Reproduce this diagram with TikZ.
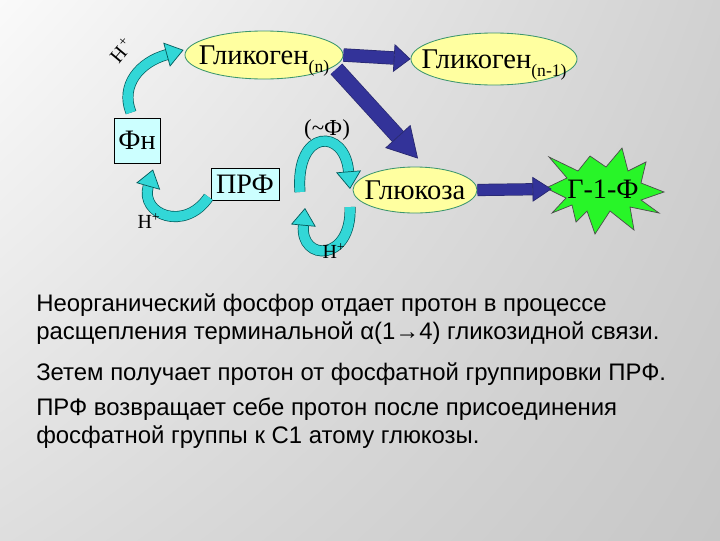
\documentclass[tikz,border=0pt]{standalone}
\usepackage{fontspec}
\setmainfont{Liberation Sans}
\newfontfamily\lbl{Liberation Serif}
\usetikzlibrary{arrows.meta,calc,shapes.geometric,shadings}

\definecolor{sugarfill}{RGB}{255,255,160}
\definecolor{sugaredge}{RGB}{60,150,110}
\definecolor{phosfill}{RGB}{204,255,255}
\definecolor{bluefill}{RGB}{51,51,153}
\definecolor{blueedge}{RGB}{40,40,110}
\definecolor{cyanfill}{RGB}{50,215,215}
\definecolor{cyanedge}{RGB}{0,90,90}
\definecolor{stargreen}{RGB}{40,245,40}

\newcommand{\lowidx}[1]{{\fontsize{12.5}{12}\selectfont\raisebox{-6pt}[0pt][0pt]{#1}}}
\newcommand{\fitin}[1]{\makebox[0pt]{#1}}

\begin{document}
\begin{tikzpicture}[x=0.025cm,y=-0.025cm,
  sugar/.style={ellipse, draw=sugaredge, fill=sugarfill, line width=0.6pt,
    inner sep=0pt, font=\lbl\fontsize{20.3}{22}\selectfont},
  phos/.style={rectangle, draw=black, fill=phosfill, line width=0.6pt,
    inner sep=0pt, font=\lbl\fontsize{20}{22}\selectfont},
  proton/.style={inner sep=0pt, font=\lbl\fontsize{14.2}{16}\selectfont},
  body/.style={anchor=base west, inner sep=0pt, font=\fontsize{17}{20}\selectfont},
  bigarrow/.style n args={3}{draw=blueedge, double=bluefill, line width=0.5pt,
    double distance=#1,
    -{Triangle[width=#2, length=#3, fill=bluefill, line width=0.5pt]}},
  cyclearrow/.style={draw=cyanedge, double=cyanfill, line width=0.5pt,
    double distance=0.24cm,
    -{Triangle[width=0.62cm, length=0.44cm, fill=cyanfill, line width=0.5pt]}}]

% Background
\shade[upper left=black!2, upper right=black!18, lower left=black!13, lower right=black!22]
  (0,0) rectangle (720,540);
\useasboundingbox (0,0) rectangle (720,540);

% Sugars and phosphates
\node[sugar, minimum width=3.95cm, minimum height=1.2cm] (gn) at (264,55) {\fitin{Гликоген\lowidx{(n)}}};
\node[sugar, minimum width=4.15cm, minimum height=1.3cm] (gn1) at (494,59) {\fitin{Гликоген\lowidx{(n-1)}}};
\node[sugar, minimum width=3.1cm, minimum height=1.15cm] (glu) at (415,190) {\fitin{Глюкоза}};
\node[phos, minimum width=1.15cm, minimum height=1.125cm] (fn) at (137,140.5) {Фн};
\node[phos, minimum width=1.7cm, minimum height=0.8cm] (prf) at (245,184) {ПРФ};

% Star
\filldraw[draw=black!70, fill=stargreen, line width=0.5pt]
  (546,188) -- (567,178) -- (549,157) -- (578,171) -- (590,156) -- (606,167)
  -- (622,148) -- (628,171) -- (646,162) -- (641,183) -- (664,192) -- (641,200)
  -- (659,213) -- (630,207) -- (634,230) -- (610,211) -- (595,234) -- (587,211)
  -- (576,222) -- (572,205) -- (552,213) -- (566,198) -- cycle;
\node[inner sep=0pt, minimum width=2.55cm, font=\lbl\fontsize{20}{22}\selectfont] (g1f) at (603,189) {Г-1-Ф};

% Main arrows
\draw[bigarrow={0.3cm}{0.7cm}{0.42cm}] (gn.east) -- (gn1.west);
\draw[bigarrow={0.36cm}{0.85cm}{0.75cm}] ($(gn.east)+(-7,14)$) -- ($(glu.north)+(3,-8)$);
\draw[bigarrow={0.27cm}{0.62cm}{0.48cm}] (glu.east) -- (g1f.west);

% Proton transfer
\draw[cyclearrow] ($(fn.north)+(-6,-5)$) .. controls (120,85) and (140,62) .. ($(gn.west)+(-1,-5)$);
\draw[cyclearrow] ($(prf.west)+(-2,13)$) .. controls (185,232) and (140,215) .. ($(fn.south)+(16,6)$);
\coordinate (pl) at (300,192);
\coordinate (pr) at (350,189);
\draw[cyclearrow] (pl) .. controls (295,128) and (345,128) .. (pr);
\coordinate (qr) at (350,207);
\coordinate (ql) at (305,208);
\draw[cyclearrow] (qr) .. controls (352,262) and (300,262) .. (ql);

% Labels
\node[proton, rotate=50] (h1) at (121,50) {H\kern1.5pt\textsuperscript{+}};
\node[proton] (h2) at (149,221) {H\textsuperscript{+}};
\node[proton] (h3) at (334,251) {H\textsuperscript{+}};
\node[inner sep=0pt, font=\lbl\fontsize{16.3}{18}\selectfont] (tf) at (327,130) {(\textasciitilde Ф)};

% Text
\node[body] (t1) at (36,311) {Неорганический фосфор отдает протон в процессе};
\node[body] (t2) at (36,339) {расщепления терминальной α(1→4) гликозидной связи.};
\node[body] (t3) at (36,380) {Зетем получает протон от фосфатной группировки ПРФ.};
\node[body] (t4) at (36,415) {ПРФ возвращает себе протон после присоединения};
\node[body] (t5) at (36,443) {фосфатной группы к С1 атому глюкозы.};
\end{tikzpicture}
\end{document}
